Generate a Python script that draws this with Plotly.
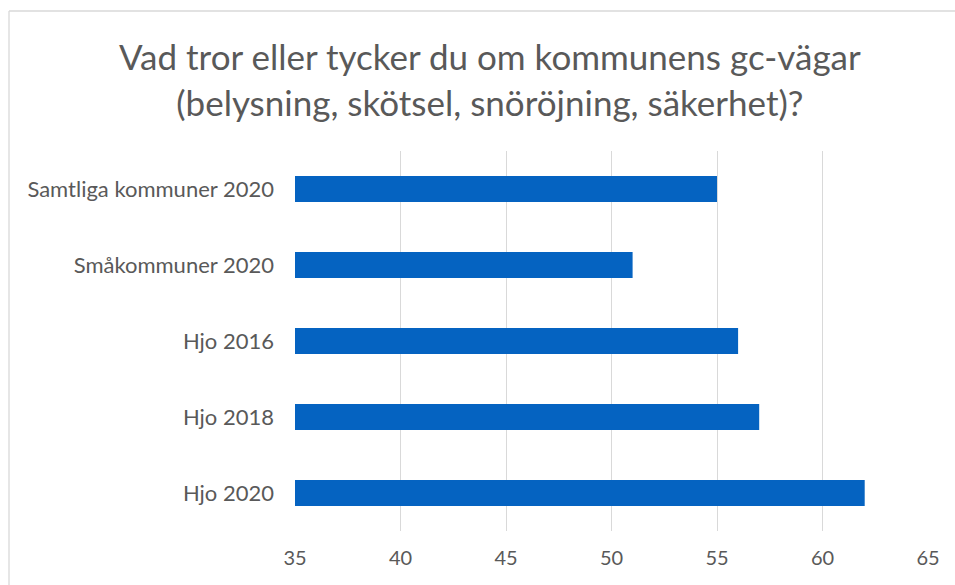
import plotly.graph_objects as go

categories = ["Samtliga kommuner 2020", "Småkommuner 2020", "Hjo 2016", "Hjo 2018", "Hjo 2020"]
values = [55, 51, 56, 57, 62]
tick_vals = [35, 40, 45, 50, 55, 60, 65]
title_lines = ["Vad tror eller tycker du om kommunens gc-vägar", "(belysning, skötsel, snöröjning, säkerhet)?"]

W, H = 955, 585
L, R, T, B = 295, 27, 151, 54
PW, PH = W - L - R, H - T - B

def px_x(p):
    return (p - L) / PW

def px_y(p):
    return (H - p - B) / PH

fig = go.Figure(go.Bar(
    y=categories, x=values, orientation="h",
    marker=dict(color="#0563C1", line=dict(width=0)),
    width=0.34,
))

border = dict(color="#d9d9d9", width=1.3)
fig.update_layout(
    width=W, height=H,
    margin=dict(l=L, r=R, t=T, b=B),
    paper_bgcolor="white", plot_bgcolor="white",
    font=dict(family="Lato, sans-serif", color="#595959"),
    showlegend=False,
    xaxis=dict(range=[35, 65], tickvals=tick_vals, showgrid=True, gridcolor="#d9d9d9", gridwidth=1.3,
               zeroline=False, showline=False, tickfont=dict(size=20, color="#595959"),
               ticks="", ticklabelstandoff=13, fixedrange=True),
    yaxis=dict(categoryorder="array", categoryarray=categories, autorange="reversed",
               showgrid=False, showline=False, ticks="", tickfont=dict(size=22, color="#595959"),
               ticklabelstandoff=20, fixedrange=True),
    shapes=[
        dict(type="line", xref="paper", yref="paper", x0=px_x(9), x1=px_x(9), y0=px_y(11), y1=px_y(H + 10), line=border, layer="below"),
        dict(type="line", xref="paper", yref="paper", x0=px_x(9), x1=px_x(W + 10), y0=px_y(11), y1=px_y(11), line=border, layer="below"),
    ],
    annotations=[dict(text="<br>".join(title_lines), xref="paper", yref="paper",
                      x=px_x(490), y=px_y(79),
                      xanchor="center", yanchor="middle", showarrow=False,
                      font=dict(size=35, color="#595959"))],
)

fig.write_html("out.html", config={"displayModeBar": False},
               post_script="document.body.style.margin='0';document.body.style.overflow='hidden';"
                           "document.documentElement.style.overflow='hidden';")
